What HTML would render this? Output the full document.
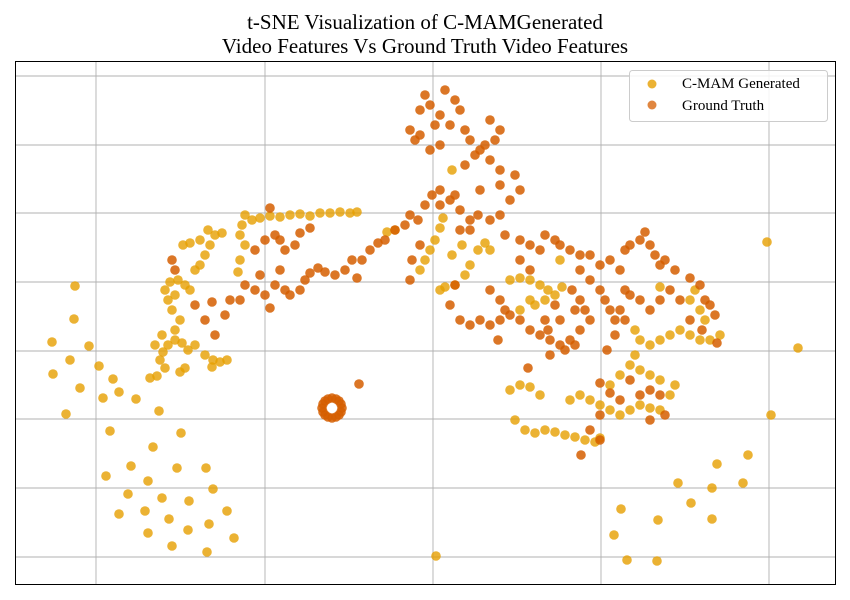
<!DOCTYPE html>
<html><head><meta charset="utf-8"><style>
body{margin:0;background:#fff;}
svg{display:block;font-family:"Liberation Serif",serif;}
</style></head><body>
<svg id="chart" width="850" height="600" viewBox="0 0 850 600">
<text x="425" y="29" text-anchor="middle" font-size="21">t-SNE Visualization of C-MAMGenerated</text>
<text x="425" y="53" text-anchor="middle" font-size="21">Video Features Vs Ground Truth Video Features</text>
<g id="grid"></g>
<g id="marks"></g>
<rect x="15.5" y="61.5" width="820" height="523" fill="none" stroke="#000" stroke-width="1"/>
<g>
<rect x="629.5" y="70.5" width="198" height="51" rx="3" fill="#fff" fill-opacity="0.85" stroke="#ccc"/>
<g><circle cx="652" cy="84" r="4.5" fill="#E69F00" fill-opacity="0.8"/><text x="682" y="88" font-size="15">C-MAM Generated</text></g>
<g><circle cx="652" cy="105" r="4.5" fill="#D55E00" fill-opacity="0.75"/><text x="682" y="110" font-size="15">Ground Truth</text></g>
</g>
</svg>
<script>
// Embedding coordinates (t-SNE units; y increases downward in this embedding frame)
const xGridTicks=[96,265,433,601,769];
const yGridTicks=[76,145,213,282,351,419,488,557];
const generated=[[75,286],[74,319],[52,342],[89,346],[53,374],[70,360],[80,388],[99,366],[113,379],[119,392],[103,398],[136,399],[66,414],[159,411],[110,431],[153,447],[181,433],[131,466],[177,468],[106,476],[148,481],[206,468],[128,494],[213,489],[162,498],[189,501],[119,514],[145,511],[169,519],[227,511],[209,524],[188,530],[148,533],[234,538],[172,546],[207,552],
[767,242],[798,348],[771,415],[717,464],[748,455],[678,483],[712,488],[743,483],[691,503],[621,509],[658,520],[712,519],[614,535],[627,560],[657,561],[436,556],
[150,378],[157,376],[165,368],[160,360],[163,352],[168,345],[175,340],[182,343],[188,350],[195,345],[205,355],[213,360],[220,362],[227,360],[212,367],[175,330],[180,320],[172,310],[168,300],[165,290],[170,282],[178,280],[185,285],[190,290],[175,295],[195,270],[200,265],[205,255],[210,245],[200,240],[190,243],[183,245],[215,235],[222,233],[208,230],[240,235],[242,225],[245,215],[252,220],[260,218],[270,216],[280,217],[290,215],[300,214],[310,216],[320,213],[330,213],[340,212],[350,213],[357,212],[245,245],[240,260],[238,272],[162,335],[155,345],[180,372],[185,368],
[387,232],[395,230],[420,270],[425,260],[430,250],[435,240],[440,228],[443,218],[440,290],[445,287],[455,285],[465,275],[470,265],[478,250],[485,243],[462,245],[452,255],[490,250],[452,170],
[510,280],[520,278],[530,280],[540,285],[548,290],[555,295],[562,287],[530,300],[520,310],[535,305],[545,300],[560,260],[510,390],[520,385],[530,387],[540,395],[515,420],[525,430],[535,433],[545,430],[555,432],[565,435],[575,437],[585,440],[595,442],[600,438],[570,400],[580,395],[590,400],[600,405],[610,410],[620,415],[630,410],[640,405],[650,408],[660,410],[670,395],[675,385],[660,380],[650,375],[640,370],[630,365],[620,375],[610,385],[635,355],[640,340],[650,345],[660,340],[670,335],[680,330],[690,335],[700,340],[710,340],[720,335],[690,300],[695,290],[700,310],[705,320],[660,287],[635,330]];
const groundTruth=[[322,408],[342,408],[332,398],[332,418],[325,401],[339,401],[325,415],[339,415],[323,404],[341,404],[323,412],[341,412],[328,399],[336,399],[328,417],[336,417],[359,384],
[172,260],[175,270],[195,305],[205,320],[212,302],[215,335],[230,300],[225,315],[245,285],[240,300],[255,290],[260,275],[265,295],[270,308],[275,285],[280,270],[285,290],[290,295],[300,290],[305,280],[310,273],[318,268],[325,272],[335,275],[345,270],[352,260],[357,278],[362,260],[370,250],[378,243],[385,240],[395,230],[405,225],[410,215],[418,220],[425,205],[432,195],[440,190],[450,200],[460,210],[470,220],[478,215],[490,220],[500,215],[510,200],[520,190],[515,175],[500,170],[490,160],[480,150],[470,140],[465,130],[450,125],[440,115],[430,105],[425,95],[445,90],[455,100],[460,110],[490,120],[500,130],[495,140],[485,145],[475,155],[465,165],[420,135],[430,150],[410,130],[440,145],[415,140],[435,125],[420,110],[270,208],[280,240],[295,245],[300,233],[285,250],[275,235],[265,240],[255,250],[310,228],[410,280],[412,260],[420,245],[460,230],[470,230],[440,205],[455,195],[480,190],[500,185],[505,235],[520,240],[530,245],[540,250],[545,235],[555,240],[560,245],[570,250],[580,255],[590,255],[600,265],[610,260],[620,270],[625,250],[630,245],[640,240],[645,232],[650,245],[655,255],[660,265],[665,260],[675,270],[690,278],[700,285],[705,300],[710,305],[715,315],[717,343],[702,330],[580,270],[590,280],[600,290],[605,300],[610,310],[615,320],[590,320],[580,330],[570,340],[560,345],[550,340],[540,335],[530,330],[520,320],[510,315],[500,320],[490,325],[480,320],[470,325],[460,320],[450,305],[455,285],[498,340],[550,355],[565,350],[575,345],[555,305],[545,320],[630,295],[640,300],[650,310],[620,310],[625,320],[607,350],[615,335],[625,290],[528,368],[600,383],[610,393],[620,400],[630,380],[640,395],[650,390],[660,395],[665,415],[650,420],[600,415],[590,430],[581,455],[600,440],[490,290],[500,300],[505,310],[548,330],[560,320],[575,310],[520,260],[530,270],[580,300],[572,290],[585,310],[660,300],[670,290],[680,300],[690,320]];

const xDomain=[15,835], xRange=[15,835];
const yDomain=[62,585], yRange=[62,585];
function xScale(v){return xRange[0]+(v-xDomain[0])/(xDomain[1]-xDomain[0])*(xRange[1]-xRange[0]);}
function yScale(v){return yRange[0]+(v-yDomain[0])/(yDomain[1]-yDomain[0])*(yRange[1]-yRange[0]);}
const NS="http://www.w3.org/2000/svg";
const grid=document.getElementById('grid');
xGridTicks.forEach(t=>{const l=document.createElementNS(NS,'line');


l.setAttribute('x1',xScale(t));l.setAttribute('x2',xScale(t));l.setAttribute('y1',62);l.setAttribute('y2',585);l.setAttribute('stroke','#b0b0b0');l.setAttribute('stroke-width','0.9');grid.appendChild(l);});
yGridTicks.forEach(t=>{const l=document.createElementNS(NS,'line');


l.setAttribute('y1',yScale(t));l.setAttribute('y2',yScale(t));l.setAttribute('x1',15);l.setAttribute('x2',835);l.setAttribute('stroke','#b0b0b0');l.setAttribute('stroke-width','0.9');grid.appendChild(l);});
const marks=document.getElementById('marks');
function draw(data,color,op,name){data.forEach(d=>{const c=document.createElementNS(NS,'circle');


c.setAttribute('cx',xScale(d[0]));c.setAttribute('cy',yScale(d[1]));c.setAttribute('r',4.8);c.setAttribute('fill',color);c.setAttribute('fill-opacity',op);marks.appendChild(c);});}
draw(generated,'#E69F00',0.8,'generated-point');
draw(groundTruth,'#D55E00',0.85,'ground-truth-point');
</script>
</body></html>
